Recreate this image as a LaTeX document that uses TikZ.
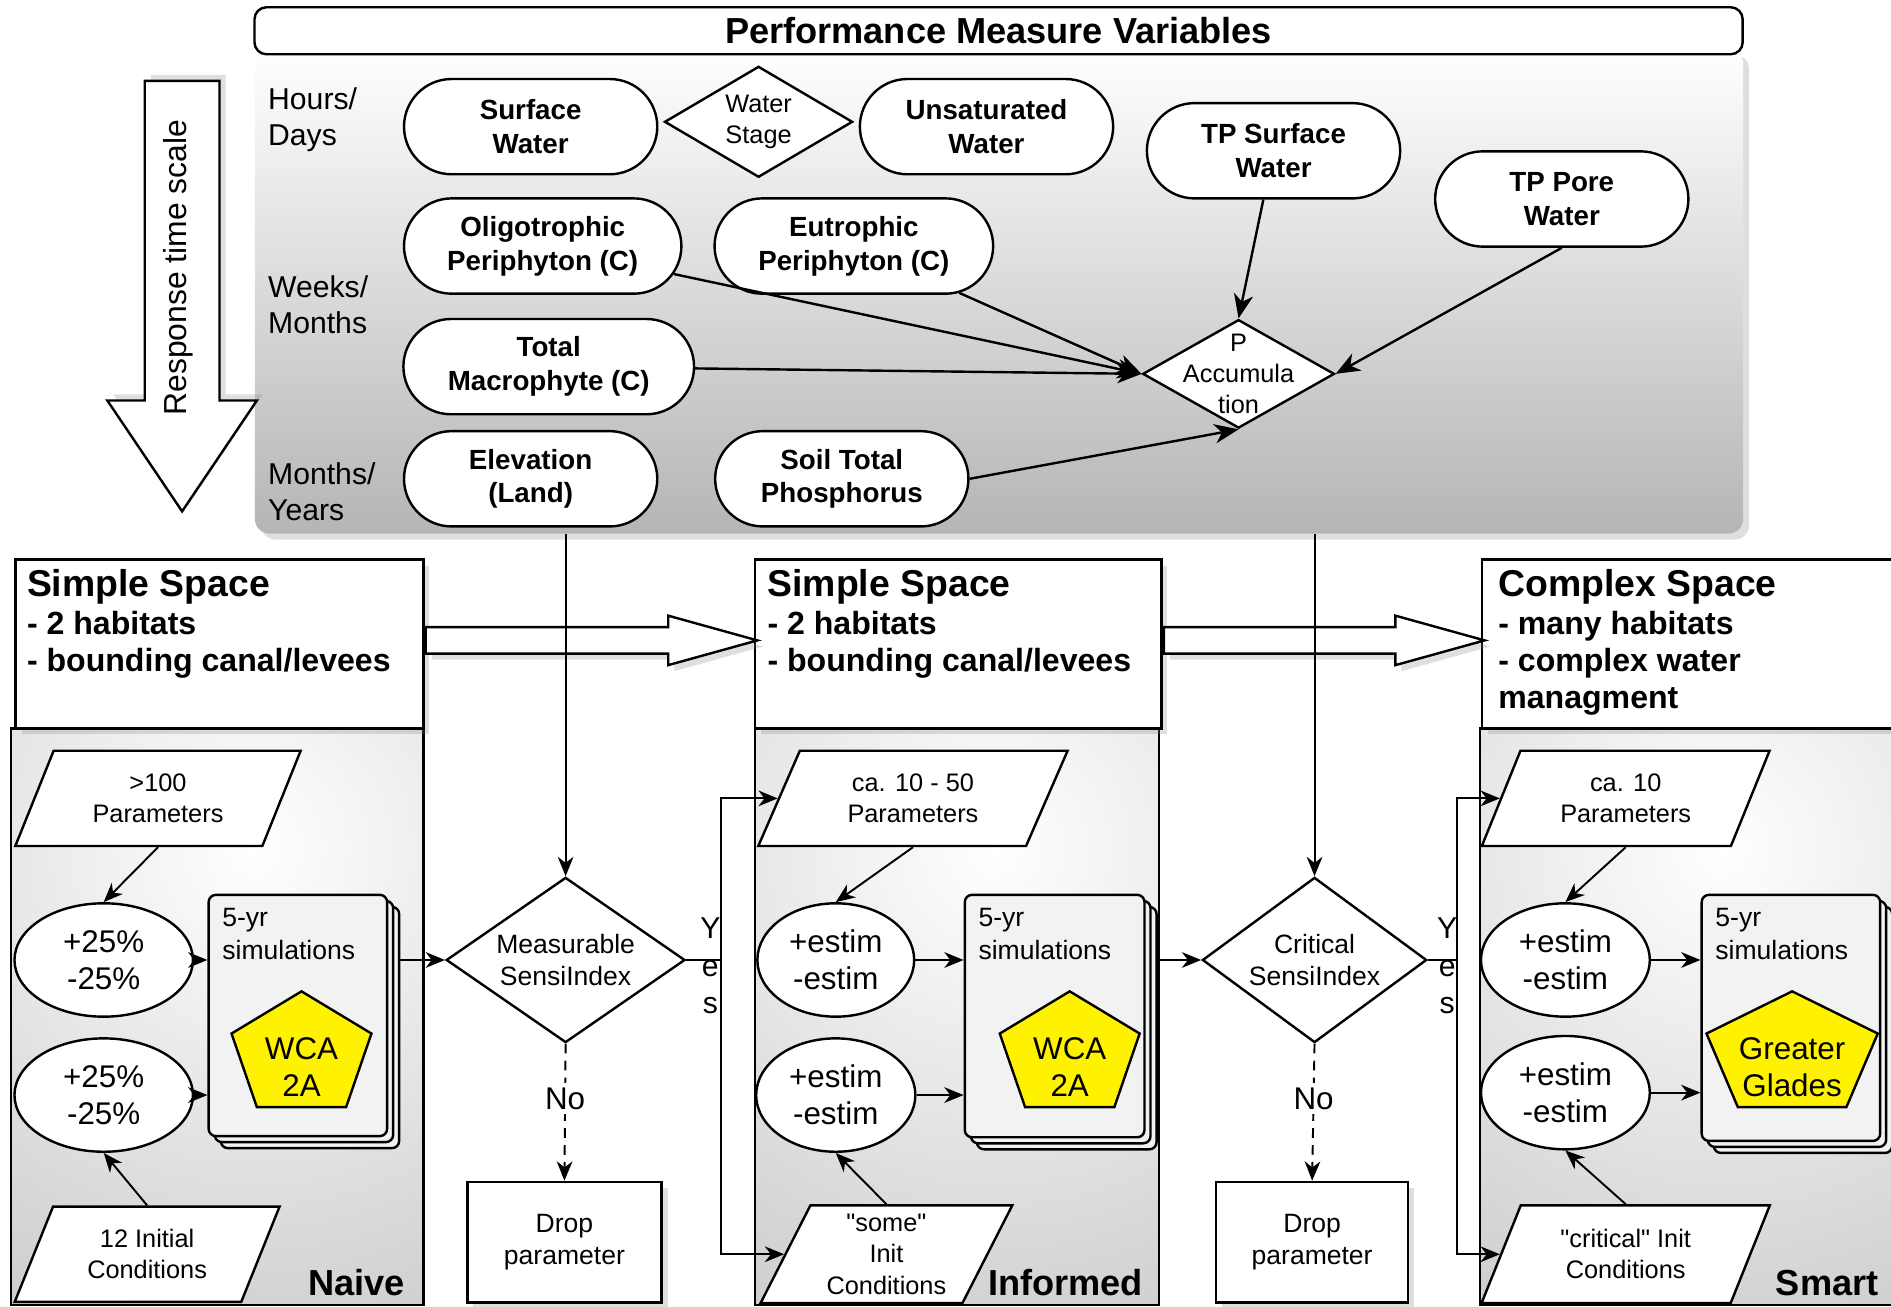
\documentclass[tikz,border=0pt]{standalone}
\usepackage{fontspec}
\setmainfont[Ligatures=TeXOff]{Liberation Sans}
\usetikzlibrary{shapes.geometric, shapes.misc, shapes.arrows, arrows.meta, positioning, calc, shadows}

\tikzset{
  shadowed/.style={drop shadow={shadow xshift=2.5pt, shadow yshift=-2.5pt, opacity=0.25}},
  pmvpanel/.style={anchor=north west, inner sep=0pt, rounded corners=6pt, top color=white, bottom color=gray!58, shadowed},
  pmvtitle/.style={draw, line width=1pt, rounded corners=5pt, fill=white, inner sep=1pt, font=\bfseries\fontsize{15}{18}\selectfont},
  timearrow/.style={single arrow, rotate=-90, anchor=tail, draw, line width=1pt, fill=white, inner sep=15pt, minimum width=0pt, single arrow head extend=15.5pt, single arrow tip angle=68, drop shadow={shadow xshift=2.5pt, shadow yshift=2.5pt, opacity=0.25}},
  advance/.style={single arrow, anchor=tail, draw, line width=1pt, fill=white, inner sep=5pt, minimum width=0pt, single arrow head extend=4.75pt, single arrow tip angle=31, shadowed},
  rowlab/.style={anchor=west, align=left, inner sep=0pt, font=\fontsize{12.5}{15}\selectfont},
  pmvar/.style={rounded rectangle, draw, line width=1pt, fill=white, align=center, minimum width=109pt, minimum height=39.5pt, inner sep=2pt, font=\bfseries\fontsize{11.5}{14}\selectfont},
  pmdec/.style={diamond, draw, line width=1pt, fill=white, inner sep=0pt},
  pmdectxt/.style={align=center, inner sep=0pt, font=\fontsize{10.5}{13}\selectfont},
  link/.style={line width=1pt, -{Stealth[length=10pt, width=8pt, inset=3pt]}},
  flow/.style={line width=0.8pt, -{Stealth[length=8pt, width=6.5pt, inset=2.5pt]}},
  spacebody/.style={draw, line width=1pt, anchor=north west, inner sep=0pt,
    path picture={\shade[inner color=white, outer color=gray!55] ([xshift=15pt, yshift=-50pt]path picture bounding box.north) circle (300pt);}},
  spacehead/.style={draw, line width=1pt, fill=white, anchor=north west, inner sep=0pt, shadowed},
  headtxt/.style={anchor=north west, align=left, inner sep=3pt, font=\bfseries\fontsize{13.3}{15.5}\selectfont},
  collab/.style={anchor=south east, inner sep=2pt, font=\bfseries\fontsize{15}{18}\selectfont},
  param/.style={trapezium, trapezium left angle=64, trapezium right angle=116, trapezium stretches=true, draw, line width=1pt, fill=white, align=center, minimum height=39.5pt, inner sep=0pt, font=\fontsize{10.5}{13}\selectfont},
  perturb/.style={ellipse, draw, line width=1pt, fill=white, align=center, inner sep=0pt, minimum height=47pt, font=\fontsize{13}{15.5}\selectfont},
  simstack/.style={draw, line width=1pt, rounded corners=3pt, fill=gray!10, anchor=north west, inner sep=0pt,
    copy shadow={shadow xshift=5pt, shadow yshift=-5pt}, copy shadow={shadow xshift=2.5pt, shadow yshift=-2.5pt}},
  simtxt/.style={anchor=north west, align=left, inner sep=6pt, font=\fontsize{11}{13.5}\selectfont},
  site/.style={draw, line width=1pt, fill=yellow},
  sitetxt/.style={align=center, inner sep=0pt, font=\fontsize{13}{15.5}\selectfont},
  decide/.style={diamond, draw, line width=1pt, fill=white, align=center, inner sep=0pt, font=\fontsize{11}{13}\selectfont},
  dropbox/.style={draw, line width=1pt, fill=white, align=center, minimum width=80.5pt, minimum height=50pt, shadowed, font=\fontsize{11}{13}\selectfont},
  yeslab/.style={align=center, inner sep=0pt, font=\fontsize{12.5}{15.5}\selectfont},
  nolab/.style={fill=white, inner sep=2pt, font=\fontsize{13}{15}\selectfont},
}

\begin{document}
\begin{tikzpicture}[x=0.5pt, y=-0.5pt]
  \useasboundingbox (0,0) rectangle (1568,1083);

  % Performance measure variables
  \node[pmvpanel, minimum width=617pt, minimum height=201pt] (pmv) at (211,40) {};
  \node[pmvtitle, minimum width=617pt, minimum height=19.5pt] (title) at (828,25.5) {Performance Measure Variables};

  % Response time scale
  \node[timearrow, minimum height=178.5pt] (tarrow) at (151,66) {};
  \node[rotate=90, font=\fontsize{13.2}{15}\selectfont] (tlabel) at (148,222) {Response time scale};

  \node[rowlab] (hours) at (222,99) {Hours/\\Days};
  \node[rowlab] (weeks) at (222,253) {Weeks/\\Months};
  \node[rowlab] (years) at (222,408) {Months/\\Years};

  \node[pmvar] (sw) at (440,105) {Surface\\Water};
  \node[pmdec, minimum width=78pt, minimum height=46pt] (stage) at (629,101) {};
  \node[pmdectxt] (stagetxt) at (stage) {Water\\Stage};
  \node[pmvar] (usw) at (818,105) {Unsaturated\\Water};
  \node[pmvar] (tpsw) at (1056,125) {TP Surface\\Water};
  \node[pmvar] (tppw) at (1295,165) {TP Pore\\Water};
  \node[pmvar, minimum width=119pt] (oligo) at (450,204) {Oligotrophic\\Periphyton (C)};
  \node[pmvar, minimum width=119.5pt] (eutro) at (708,204) {Eutrophic\\Periphyton (C)};
  \node[pmvar, minimum width=124.5pt] (macro) at (455,304) {Total\\Macrophyte (C)};
  \node[pmdec, minimum width=79.5pt, minimum height=45pt] (pacc) at (1027,310) {};
  \node[pmdectxt] (pacctxt) at (1027,310) {P\\Accumula\\tion};
  \node[pmvar] (elev) at (440,397) {Elevation\\(Land)};
  \node[pmvar] (soil) at (698,397) {Soil Total\\Phosphorus};

  \draw[link] (oligo) -- (pacc.west);
  \draw[link] (eutro) -- (pacc.west);
  \draw[link] (macro) -- (pacc.west);
  \draw[link] (tpsw) -- (pacc.north);
  \draw[link] (tppw.south) -- (pacc.east);
  \draw[link] (soil.east) -- (pacc.south);

  % Spaces
  \node[spacebody, minimum width=171pt, minimum height=239pt] (body1) at (8,603) {};
  \node[spacebody, minimum width=167.5pt, minimum height=239pt] (body2) at (625,603) {};
  \node[spacebody, minimum width=171pt, minimum height=239pt] (body3) at (1226,603) {};
  \node[spacehead, minimum width=169pt, minimum height=70pt] (head1) at (12,463) {};
  \node[spacehead, minimum width=168.5pt, minimum height=70pt] (head2) at (625,463) {};
  \node[spacehead, minimum width=170pt, minimum height=70pt] (head3) at (1228,463) {};
  \node[headtxt] (head1txt) at (16,466) {{\fontsize{15.5}{17}\selectfont Simple Space}\\- 2 habitats\\- bounding canal/levees};
  \node[headtxt] (head2txt) at (630,466) {{\fontsize{15.5}{17}\selectfont Simple Space}\\- 2 habitats\\- bounding canal/levees};
  \node[headtxt] (head3txt) at (1236,466) {{\fontsize{15.5}{17}\selectfont Complex Space}\\- many habitats\\- complex water\\managment};
  \node[advance, minimum height=137.5pt] (adv1) at (head1.east |- 0,531) {};
  \node[advance, minimum height=133pt] (adv2) at (head2.east |- 0,531) {};

  % Naive
  \node[param, minimum width=119pt] (par1) at (131,662) {>100\\Parameters};
  \node[perturb, minimum width=74pt] (pert1a) at (86,796) {+25\%\\-25\%};
  \node[perturb, minimum width=74pt] (pert1b) at (86,908) {+25\%\\-25\%};
  \node[simstack, minimum width=74pt, minimum height=100pt] (sim1) at (172,741) {};
  \node[simtxt] (sim1txt) at (sim1.north west) {5-yr\\simulations};
  \draw[site] (250,822) -- ++(58,35) -- ++(-21,61) -- ++(-74,0) -- ++(-21,-61) -- cycle;
  \node[sitetxt] (site1) at (250,885) {WCA\\2A};
  \node[param, minimum width=110pt] (init1) at (122,1040) {12 Initial\\Conditions};
  \node[collab] (naive) at (340,1079) {Naive};
  \draw[flow] (par1.south) -- (pert1a.north);
  \draw[flow] (pert1a.east) -- (pert1a.east -| sim1.west);
  \draw[flow] (pert1b.east) -- (pert1b.east -| sim1.west);
  \draw[flow] (init1.north) -- (pert1b.south);

  \node[decide, aspect=1.45, minimum width=99pt, minimum height=68.5pt] (meas) at (469,796) {Measurable\\SensiIndex};
  \node[dropbox] (drop1) at (468,1030) {Drop\\parameter};
  \draw[flow] ([xshift=5pt]sim1.east |- meas.west) -- (meas.west);
  \draw[flow] (meas.north |- pmv.south) -- (meas.north);
  \draw[flow, dash pattern=on 4pt off 3pt] (meas.south) -- node[nolab, pos=0.4] (no1) {No} (drop1.north);

  % Informed
  \node[param, minimum width=129pt] (par2) at (757,662) {ca. 10 - 50\\Parameters};
  \node[perturb, minimum width=65pt] (pert2a) at (693,796) {+estim\\-estim};
  \node[perturb, minimum width=66pt] (pert2b) at (693,908) {+estim\\-estim};
  \node[simstack, minimum width=74.5pt, minimum height=100.5pt] (sim2) at (799,741) {};
  \node[simtxt] (sim2txt) at (sim2.north west) {5-yr\\simulations};
  \draw[site] (887,822) -- ++(58,35) -- ++(-21,61) -- ++(-74,0) -- ++(-21,-61) -- cycle;
  \node[sitetxt] (site2) at (887,885) {WCA\\2A};
  \node[param, minimum width=105pt, minimum height=40.5pt] (init2) at (735,1040) {"some"\\Init\\Conditions};
  \node[collab] (informed) at (952,1079) {Informed};
  \draw[flow] (par2.south) -- (pert2a.north);
  \draw[flow] (pert2a.east) -- (pert2a.east -| sim2.west);
  \draw[flow] (pert2b.east) -- (pert2b.east -| sim2.west);
  \draw[flow] (init2.north) -- (pert2b.south);

  \coordinate (yes1) at (598,796);
  \node[yeslab] (yes1lab) at (589,801) {Y\\e\\s};
  \draw[line width=0.8pt] (meas.east) -- (yes1);
  \draw[flow] (yes1) |- (par2.west);
  \draw[flow] (yes1) |- (init2.west);

  \node[decide, aspect=1.36, minimum width=93pt, minimum height=68.5pt] (crit) at (1090,796) {Critical\\SensiIndex};
  \node[dropbox, minimum width=79.5pt] (drop2) at (1088,1030) {Drop\\parameter};
  \draw[flow] ([xshift=5pt]sim2.east |- crit.west) -- (crit.west);
  \draw[flow] (crit.north |- pmv.south) -- (crit.north);
  \draw[flow, dash pattern=on 4pt off 3pt] (crit.south) -- node[nolab, pos=0.4] (no2) {No} (drop2.north);

  % Smart
  \node[param, minimum width=120pt] (par3) at (1348,662) {ca. 10\\Parameters};
  \node[perturb, minimum width=70pt] (pert3a) at (1298,796) {+estim\\-estim};
  \node[perturb, minimum width=70pt] (pert3b) at (1298,906) {+estim\\-estim};
  \node[simstack, minimum width=74pt, minimum height=102pt] (sim3) at (1410,741) {};
  \node[simtxt] (sim3txt) at (sim3.north west) {5-yr\\simulations};
  \draw[site] (1486,822) -- ++(71,35) -- ++(-26,61) -- ++(-90,0) -- ++(-26,-61) -- cycle;
  \node[sitetxt] (site3) at (1486,885) {Greater\\Glades};
  \node[param, minimum width=120pt, minimum height=40.5pt] (init3) at (1348,1040) {"critical" Init\\Conditions};
  \node[collab] (smart) at (1562,1079) {Smart};
  \draw[flow] (par3.south) -- (pert3a.north);
  \draw[flow] (pert3a.east) -- (pert3a.east -| sim3.west);
  \draw[flow] (pert3b.east) -- (pert3b.east -| sim3.west);
  \draw[flow] (init3.north) -- (pert3b.south);

  \coordinate (yes2) at (1208,796);
  \node[yeslab] (yes2lab) at (1200,801) {Y\\e\\s};
  \draw[line width=0.8pt] (crit.east) -- (yes2);
  \draw[flow] (yes2) |- (par3.west);
  \draw[flow] (yes2) |- (init3.west);
\end{tikzpicture}
\end{document}
